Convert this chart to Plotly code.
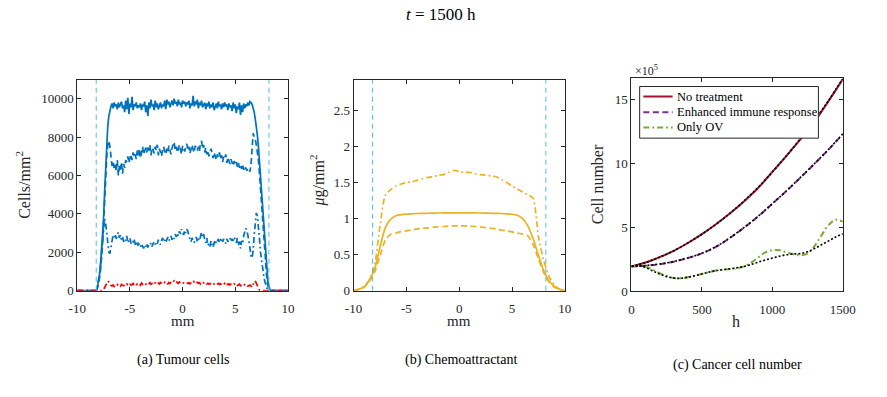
import plotly.graph_objects as go

# ---------------- Panel (a): tumour cells, x in mm ----------------
# grid: -10, then -8.5 .. 8.5 step 0.1 (171 pts), then 10
XA = [-10.0] + [round(-8.5 + 0.1 * i, 1) for i in range(171)] + [10.0]

A_SOLID = [0,
    0, 0, 0, 0, 150, 400, 800, 1300, 2000, 2800,
    3800, 5200, 6500, 7700, 8600, 9100, 9400, 9600, 9750, 9500,
    9800, 9600, 9700, 9450, 9800, 9550, 9700, 9850, 9500, 9650,
    9300, 9900, 9450, 10050, 9200, 9750, 9550, 10100, 9400, 9700,
    9600, 9800, 9500, 9650, 9550, 9750, 9400, 9700, 9600, 9850,
    9300, 9650, 9100, 9800, 9500, 9950, 9600, 9700, 9400, 9900,
    9550, 9750, 9450, 9650, 9800, 9500, 9700, 9600, 9900, 9450,
    9950, 9700, 9850, 9550, 9750, 9900, 9650, 10000, 9750, 9850,
    9600, 9950, 9700, 9800, 9550, 9900, 9750, 9850, 9600, 9800,
    9700, 9900, 9500, 9750, 9650, 10150, 9600, 9850, 9700, 9950,
    9500, 9800, 9650, 9900, 9550, 9700, 9800, 9450, 9750, 9600,
    9850, 9500, 9700, 9550, 9800, 9400, 9650, 9750, 9500, 9850,
    9600, 9700, 9450, 9750, 9550, 9800, 9600, 9700, 9400, 9750,
    9550, 9650, 9350, 9800, 9500, 9700, 9250, 9600, 9450, 9800,
    9150, 9650, 9300, 9750, 9500, 9700, 9600, 9800, 9650, 9850,
    9800, 9700, 9500, 9300, 8950, 8600, 8100, 7500, 6700, 5800,
    4900, 4100, 3300, 2500, 1700, 1000, 500, 250, 50, 0,
    0,
    0]

A_DASH = [0,
    0, 0, 0, 0, 100, 300, 600, 1000, 1600, 2400,
    3500, 4800, 6000, 7000, 7600, 7800, 7500, 7000, 6500, 6700,
    6400, 6600, 6200, 6800, 6000, 6500, 6300, 6700, 6100, 6600,
    6400, 6800, 6700, 7000, 6650, 6900, 7100, 6800, 7200, 6950,
    7100, 6850, 7300, 7050, 7400, 6900, 7250, 7500, 7100, 7350,
    7450, 7200, 7550, 7300, 7600, 7050, 7450, 7350, 7150, 7500,
    7300, 7600, 7050, 7400, 7200, 7000, 7350, 7500, 7250, 7100,
    7400, 7200, 7550, 7300, 7100, 7450, 7650, 7750, 7300, 7500,
    7200, 7450, 7600, 7350, 7100, 7550, 7400, 7250, 7500, 7650,
    7300, 7500, 7150, 7450, 7600, 7350, 7200, 7550, 7450, 7300,
    7500, 7250, 7700, 7800, 7400, 7600, 7200, 7450, 7100, 7300,
    7000, 7250, 7400, 7150, 6900, 7200, 7050, 6800, 7100, 6950,
    7200, 6850, 7050, 6700, 7000, 6900, 7100, 6650, 6950, 6750,
    6600, 6850, 6700, 6500, 6750, 6550, 6700, 6450, 6650, 6400,
    6550, 6350, 6600, 6300, 6500, 6350, 6250, 6400, 6300, 6200,
    6600, 7700, 8200, 8000, 7900, 7600, 7300, 6800, 6100, 5300,
    4400, 3500, 2700, 1900, 1200, 600, 250, 80, 0, 0,
    0,
    0]

A_DASHDOT = [0,
    0, 0, 0, 0, 150, 400, 800, 1300, 2000, 2700,
    3300, 3750, 3500, 3000, 2400, 2000, 1950, 2300, 2700, 2900,
    2800, 2950, 2700, 2850, 3050, 2750, 2900, 2650, 2800, 2550,
    2700, 2600, 2850, 2500, 2650, 2750, 2450, 2600, 2550, 2700,
    2400, 2550, 2300, 2500, 2350, 2250, 2450, 2300, 2200, 2400,
    2300, 2450, 2250, 2400, 2350, 2500, 2300, 2450, 2550, 2400,
    2550, 2450, 2650, 2500, 2400, 2600, 2750, 2550, 2650, 2500,
    2700, 2800, 2600, 2750, 2850, 2650, 2800, 2700, 2950, 2800,
    3000, 2850, 3100, 2950, 3200, 3050, 2900, 3150, 3000, 3200,
    3100, 2850, 2700, 2550, 2750, 2600, 2500, 2650, 2800, 2550,
    2700, 2600, 2900, 3050, 2800, 2950, 2650, 2500, 2750, 2350,
    2450, 2300, 2600, 2400, 2250, 2500, 2650, 2450, 2600, 2700,
    2500, 2650, 2750, 2550, 2700, 2600, 2450, 2700, 2550, 2650,
    2750, 2550, 2700, 2600, 2800, 2650, 2500, 2750, 2350, 2550,
    2200, 2600, 2450, 2850, 3100, 3250, 3150, 2900, 2600, 2200,
    1800, 1700, 2100, 2900, 3700, 4050, 3900, 3400, 2700, 2000,
    1500, 1100, 800, 500, 300, 150, 70, 20, 0, 0,
    0,
    0]

A_RED = [0,
    0, 0, 0, 0, 0, 0, 0, 0, 0, 0,
    50, 150, 300, 420, 510, 450, 350, 280, 250, 300,
    220, 280, 250, 320, 260, 300, 240, 330, 290, 260,
    310, 270, 350, 300, 260, 340, 290, 320, 380, 300,
    340, 280, 360, 310, 350, 290, 400, 330, 300, 370,
    330, 390, 310, 360, 420, 340, 380, 300, 350, 410,
    360, 320, 400, 350, 430, 370, 330, 390, 440, 360,
    400, 350, 430, 380, 460, 410, 470, 520, 440, 490,
    420, 380, 450, 400, 430, 370, 410, 390, 440, 400,
    380, 420, 360, 410, 470, 530, 450, 490, 410, 440,
    380, 420, 350, 400, 360, 410, 330, 380, 350, 390,
    340, 380, 320, 360, 400, 340, 370, 310, 350, 380,
    330, 370, 300, 350, 320, 380, 290, 340, 310, 360,
    300, 340, 280, 320, 360, 290, 330, 270, 310, 340,
    260, 300, 240, 290, 320, 250, 280, 230, 260, 300,
    250, 180, 320, 480, 510, 400, 250, 120, 30, 0,
    0, 0, 0, 0, 0, 0, 0, 0, 0, 0,
    0,
    0]

BOUNDARY_MM = [-8.2, 8.2]
MM_TICKS = [-10, -5, 0, 5, 10]
MM_TICK_TEXT = ["-10", "-5", "0", "5", "10"]
CELL_TICKS = [0, 2000, 4000, 6000, 8000, 10000]
CELL_TICK_TEXT = ["0", "2000", "4000", "6000", "8000", "10000"]

# ---------------- Panel (b): chemoattractant ----------------
XB = [-10, -9.5, -9, -8.5, -8, -7.5, -7, -6.5, -6, -5.5, -5, -4.5, -4, -3.5, -3, -2.5, -2,
      -1.5, -1, -0.5, 0, 0.5, 1, 1.5, 2, 2.5, 3, 3.5, 4, 4.5, 5, 5.5, 6, 6.5, 7, 7.5, 8,
      8.5, 9, 9.5, 10]
B_SOLID = [0.0, 0.02, 0.05, 0.15, 0.3, 0.6, 0.87, 0.99, 1.04, 1.055, 1.062, 1.066, 1.07,
           1.072, 1.074, 1.076, 1.077, 1.078, 1.079, 1.08, 1.08, 1.08, 1.079, 1.078, 1.077,
           1.076, 1.074, 1.072, 1.07, 1.066, 1.06, 1.045, 1.0, 0.9, 0.72, 0.49, 0.28, 0.14,
           0.06, 0.02, 0.0]
B_DASH = [0.0, 0.02, 0.05, 0.13, 0.26, 0.48, 0.7, 0.78, 0.8, 0.82, 0.83, 0.845, 0.855,
          0.865, 0.87, 0.88, 0.885, 0.89, 0.895, 0.9, 0.9, 0.9, 0.895, 0.89, 0.885, 0.875,
          0.865, 0.855, 0.84, 0.83, 0.815, 0.8, 0.785, 0.76, 0.64, 0.44, 0.25, 0.12, 0.05,
          0.02, 0.0]
B_DASHDOT = [0.0, 0.02, 0.06, 0.15, 0.35, 0.9, 1.32, 1.4, 1.45, 1.48, 1.5, 1.51, 1.53,
             1.55, 1.57, 1.58, 1.6, 1.61, 1.64, 1.67, 1.65, 1.64, 1.64, 1.62, 1.61, 1.6,
             1.59, 1.58, 1.54, 1.5, 1.45, 1.41, 1.37, 1.33, 1.28, 0.75, 0.42, 0.2, 0.08,
             0.02, 0.0]

# ---------------- Panel (c): cancer cell number (x 1e5) ----------------
TC = [0, 100, 200, 300, 400, 500, 600, 700, 800, 900, 1000, 1100, 1200, 1300, 1400, 1500]
NO_TREAT = [1.95, 2.26, 2.68, 3.17, 3.78, 4.47, 5.25, 6.1, 7.05, 8.1, 9.35, 10.6, 11.9,
            13.3, 14.9, 16.6]
NO_TREAT_FIT = [1.95, 2.25, 2.67, 3.17, 3.78, 4.47, 5.25, 6.12, 7.08, 8.14, 9.33, 10.6,
                11.95, 13.4, 14.95, 16.65]
IMMUNE = [1.95, 2.0, 2.12, 2.32, 2.6, 2.97, 3.48, 4.18, 4.98, 5.87, 6.85, 7.85, 8.9, 9.98,
          11.1, 12.3]
IMMUNE_FIT = [1.95, 2.02, 2.14, 2.33, 2.61, 2.98, 3.5, 4.2, 5.0, 5.88, 6.86, 7.86, 8.92,
              10.0, 11.12, 12.32]
TG = [0, 50, 100, 150, 200, 250, 300, 350, 400, 450, 500, 550, 600, 650, 700, 750, 800,
      850, 900, 950, 1000, 1050, 1100, 1150, 1200, 1250, 1300, 1350, 1400, 1450, 1500]
ONLY_OV = [1.95, 2.05, 1.95, 1.7, 1.42, 1.2, 1.05, 1.02, 1.1, 1.22, 1.36, 1.5, 1.62, 1.7,
           1.75, 1.8, 1.95, 2.25, 2.65, 3.05, 3.22, 3.22, 3.05, 2.9, 2.82, 2.95, 3.55, 4.4,
           5.2, 5.6, 5.45]
ONLY_OV_FIT = [1.95, 2.0, 1.85, 1.6, 1.35, 1.15, 1.03, 1.02, 1.1, 1.22, 1.36, 1.5, 1.62,
               1.7, 1.76, 1.84, 1.95, 2.1, 2.28, 2.45, 2.6, 2.75, 2.86, 2.92, 2.95, 3.1,
               3.35, 3.65, 3.95, 4.25, 4.5]
LEGEND_NAMES = ["No treatment", "Enhanced immune response", "Only OV"]

# ---------------- styling ----------------
FONT = "Liberation Serif, Times New Roman, DejaVu Serif, serif"
BLUE = "#0072BD"
ORANGE = "#EDB120"
PURPLE = "#7E2F8E"
GREEN = "#77AC30"
DARKRED = "#A2142F"
RED = "#FF0000"
LIGHTBLUE = "#4DBEEE"
AX = "#262626"
DASH = "6px,3.5px"
DASHDOT = "6px,3px,1.8px,3px"
DOT = "2px,2px"
W, H = 887, 397


def px(xp):
    return xp / W


def py(yp):
    return 1 - yp / H


fig = go.Figure()

# panel a
for vals, dash, col in [(A_SOLID, "solid", BLUE), (A_DASH, DASH, BLUE),
                        (A_DASHDOT, DASHDOT, BLUE), (A_RED, DASHDOT, RED)]:
    fig.add_trace(go.Scatter(x=XA, y=vals, mode="lines", xaxis="x", yaxis="y",
                             line=dict(color=col, width=1.7, dash=dash), showlegend=False))
# panel b
for vals, dash in [(B_SOLID, "solid"), (B_DASH, DASH), (B_DASHDOT, DASHDOT)]:
    fig.add_trace(go.Scatter(x=XB, y=vals, mode="lines", xaxis="x2", yaxis="y2",
                             line=dict(color=ORANGE, width=1.7, dash=dash, shape="spline",
                                       smoothing=0.6), showlegend=False))
# panel c
SERIES_C = [(TC, NO_TREAT, DARKRED, "solid"), (TC, IMMUNE, PURPLE, DASH),
            (TG, ONLY_OV, GREEN, DASHDOT)]
for (tx, vals, col, dash), name in zip(SERIES_C, LEGEND_NAMES):
    fig.add_trace(go.Scatter(x=tx, y=vals, mode="lines", xaxis="x3", yaxis="y3",
                             name=name, showlegend=False,
                             line=dict(color=col, width=2, dash=dash, shape="spline")))
for tx, vals in [(TC, NO_TREAT_FIT), (TC, IMMUNE_FIT), (TG, ONLY_OV_FIT)]:
    fig.add_trace(go.Scatter(x=tx, y=vals, mode="lines", xaxis="x3", yaxis="y3",
                             line=dict(color="black", width=1.6, dash=DOT, shape="spline"),
                             showlegend=False))

shapes = []
# boundary lines in panels a and b
for xr, yr in [("x", "y"), ("x2", "y2")]:
    for b in BOUNDARY_MM:
        shapes.append(dict(type="line", xref=xr, yref=yr + " domain", x0=b, x1=b, y0=0,
                           y1=1, line=dict(color=LIGHTBLUE, width=1, dash="5px,4px")))

# legend box (panel c)
shapes.append(dict(type="rect", xref="paper", yref="paper", x0=px(646.7), x1=px(830),
                   y0=py(141), y1=py(88.3), line=dict(color=AX, width=1),
                   fillcolor="white", layer="above"))
LEG_ROWS = [98.5, 114.5, 130]
for (tx, vals, col, dash), yr in zip(SERIES_C, LEG_ROWS):
    shapes.append(dict(type="line", xref="paper", yref="paper", x0=px(650.5), x1=px(680.5),
                       y0=py(yr), y1=py(yr), layer="above",
                       line=dict(color=col, width=2, dash=dash)))

tickfont = dict(family=FONT, size=13, color=AX)
common = dict(showline=True, linecolor=AX, linewidth=1, mirror="ticks", ticks="inside",
              ticklen=4, tickcolor=AX, tickwidth=1, showgrid=False, zeroline=False,
              tickfont=tickfont)

ytop = py(81.7)
ybot = py(296.7)
fig.update_layout(
    width=W, height=H, margin=dict(l=0, r=0, t=0, b=0),
    paper_bgcolor="white", plot_bgcolor="white", showlegend=False,
    xaxis=dict(domain=[px(70), px(286)], range=[-10, 10], tickvals=MM_TICKS,
               ticktext=MM_TICK_TEXT, ticklabelstandoff=6, anchor="y", **common),
    yaxis=dict(domain=[ybot, ytop], range=[0, 10970], tickvals=CELL_TICKS,
               ticktext=CELL_TICK_TEXT, anchor="x", **common),
    xaxis2=dict(domain=[px(353.3), px(570)], range=[-10, 10], tickvals=MM_TICKS,
                ticktext=MM_TICK_TEXT, ticklabelstandoff=6, anchor="y2", **common),
    yaxis2=dict(domain=[ybot, ytop], range=[0, 2.92],
                tickvals=[0, 0.5, 1, 1.5, 2, 2.5], anchor="x2", **common),
    xaxis3=dict(domain=[px(638.3), px(855)], range=[0, 1500],
                tickvals=[0, 500, 1000, 1500], ticklabelstandoff=6, anchor="y3", **common),
    yaxis3=dict(domain=[py(297.3), py(80)], range=[0, 16.66],
                tickvals=[0, 5, 10, 15], anchor="x3", **common),
    shapes=shapes,
)

ann = []


def text(s, x, y, size, angle=0, xanchor="center", color="black"):
    ann.append(dict(text=s, x=px(x), y=py(y), xref="paper", yref="paper",
                    showarrow=False, textangle=angle, xanchor=xanchor, yanchor="middle",
                    font=dict(family=FONT, size=size, color=color)))


text("<i>t</i> = 1500 h", 443, 15, 17)
text("Cells/mm<sup>2</sup>", 15, 189, 16, angle=-90, color=AX)
text("<i>μ</i>g/mm<sup>2</sup>", 316, 184, 16, angle=-90, color=AX)
text("Cell number", 603, 188, 16, angle=-90, color=AX)
text("mm", 178, 328, 15, color=AX)
text("mm", 461, 328, 15, color=AX)
text("h", 746, 328, 16, color=AX)
text("×10<sup>5</sup>", 640, 72, 12, xanchor="left", color=AX)
for name, yr in zip(LEGEND_NAMES, LEG_ROWS):
    text(name, 683, yr, 12.5, xanchor="left")
text("(a) Tumour cells", 179, 367, 14)
text("(b) Chemoattractant", 463, 367, 14)
text("(c) Cancer cell number", 747, 372, 14)
fig.update_layout(annotations=ann)

fig.write_html("out.html")
